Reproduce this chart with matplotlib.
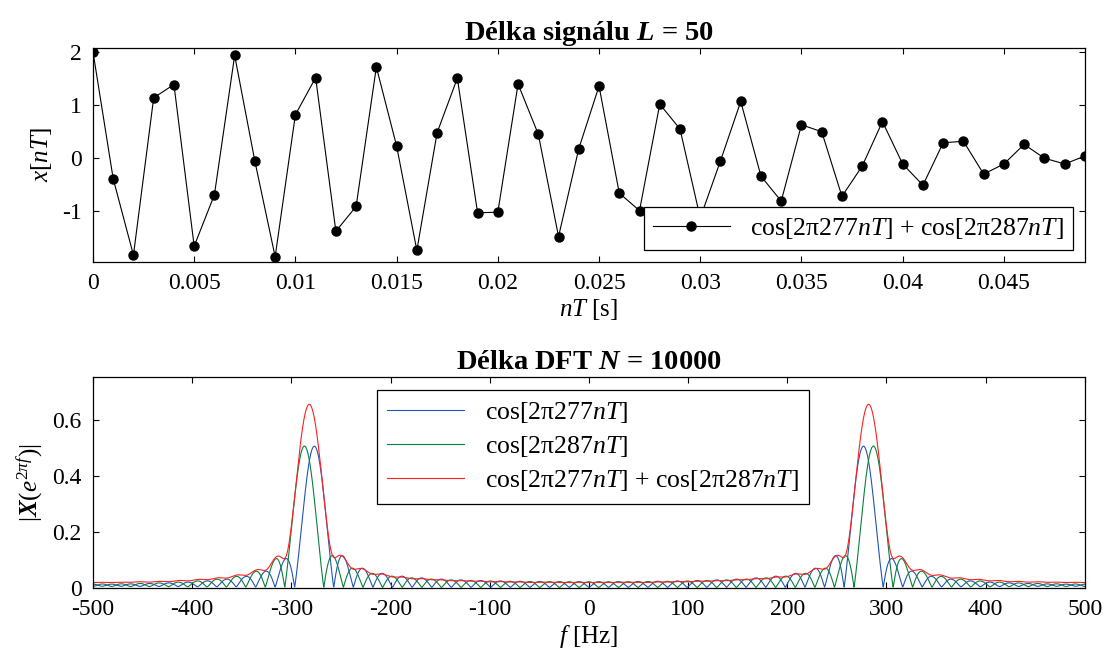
import numpy as np
import matplotlib
matplotlib.use('Agg')
import matplotlib.pyplot as plt

plt.rcParams['font.family'] = ['Liberation Serif', 'DejaVu Serif']
plt.rcParams['mathtext.fontset'] = 'custom'
plt.rcParams['mathtext.rm'] = 'Liberation Serif'
plt.rcParams['mathtext.it'] = 'Liberation Serif:italic'
plt.rcParams['mathtext.bf'] = 'Liberation Serif:bold'
plt.rcParams['mathtext.bfit'] = 'Liberation Serif:italic:bold'
plt.rcParams['axes.unicode_minus'] = False
plt.rcParams['font.size'] = 17

# signal parameters (from the titles / legend)
T = 0.001
L = 50
N = 10000
freqs = [277, 287]

# x[nT]
x_sum = [2.00, -0.40, -1.84, 1.13, 1.38, -1.67, -0.70, 1.93, -0.07, -1.87,
         0.81, 1.51, -1.39, -0.92, 1.71, 0.22, -1.75, 0.47, 1.50, -1.04,
         -1.03, 1.39, 0.44, -1.49, 0.17, 1.35, -0.67, -1.00, 1.01, 0.54,
         -1.14, -0.06, 1.06, -0.35, -0.82, 0.62, 0.49, -0.73, -0.16, 0.68,
         -0.12, -0.52, 0.28, 0.31, -0.31, -0.12, 0.25, -0.01, -0.12, 0.03]

top_xticks = [0, 0.005, 0.01, 0.015, 0.02, 0.025, 0.03, 0.035, 0.04, 0.045]
top_xlabels = ['0', '0.005', '0.01', '0.015', '0.02', '0.025', '0.03', '0.035', '0.04', '0.045']
top_yticks = [-1, 0, 1, 2]
bot_xticks = [-500, -400, -300, -200, -100, 0, 100, 200, 300, 400, 500]
bot_yticks = [0, 0.2, 0.4, 0.6]
bot_ylabels = ['0', '0.2', '0.4', '0.6']

lab_one = 'cos[2π277$nT$]'
lab_two = 'cos[2π287$nT$]'
lab_sum = 'cos[2π277$nT$] + cos[2π287$nT$]'

n = np.arange(L)
t = n * T
x1 = np.cos(2 * np.pi * freqs[0] * t)
x2 = np.cos(2 * np.pi * freqs[1] * t)
xs = np.array(x_sum)

def spectrum(x):
  return np.abs(np.fft.fftshift(np.fft.fft(x, N))) / L

f = (np.arange(N) - N / 2) / (N * T)

fig = plt.figure(figsize=(11.12, 6.59), dpi=100)
ax1 = fig.add_axes([0.0836, 0.6024, 0.892, 0.3248])
ax2 = fig.add_axes([0.0836, 0.1077, 0.892, 0.3203])

def style(ax):
  ax.tick_params(direction='in', top=True, right=True, length=4, width=0.8, pad=8)
  for s in ax.spines.values():
    s.set_linewidth(0.9)

# top: the signal
ax1.plot(t, xs, '-o', color='black', lw=0.8, markersize=6.5, label=lab_sum)
ax1.set_xlim(0, 0.049)
ax1.set_ylim(-1.97, 2.07)
ax1.set_xticks(top_xticks)
ax1.set_xticklabels(top_xlabels)
ax1.set_yticks(top_yticks)
ax1.set_xlabel('$nT$ [s]', labelpad=2, fontsize=18)
ax1.set_ylabel('$x[nT]$', labelpad=6, fontsize=18)
ax1.set_title(r'Délka signálu $\mathbfit{L}$ = 50', fontweight='bold', pad=6, fontsize=20.5)
style(ax1)
leg1 = ax1.legend(loc='lower right', bbox_to_anchor=(0.988, 0.056), borderaxespad=0,
                  fancybox=False, edgecolor='black', framealpha=1, handlelength=3.0,
                  borderpad=0.35, fontsize=18.5)
leg1.get_frame().set_linewidth(0.9)

# bottom: DFT magnitudes
ax2.plot(f, spectrum(x1), color='#2255bb', lw=0.8, label=lab_one)
ax2.plot(f, spectrum(x2), color='#0a8040', lw=0.8, label=lab_two)
ax2.plot(f, spectrum(xs), color='#ff2020', lw=0.8, label=lab_sum)
ax2.set_xlim(-500, 500)
ax2.set_ylim(0, 0.755)
ax2.set_xticks(bot_xticks)
ax2.set_yticks(bot_yticks)
ax2.set_yticklabels(bot_ylabels)
ax2.set_xlabel('$f$ [Hz]', labelpad=2, fontsize=18)
ax2.set_ylabel(r'$|\mathbfit{X}(e^{2\pi f})|$', labelpad=6, fontsize=18)
ax2.set_title(r'Délka DFT $\mathbfit{N}$ = 10000', fontweight='bold', pad=6, fontsize=20.5)
style(ax2)
leg2 = ax2.legend(loc='upper left', bbox_to_anchor=(0.286, 0.938), borderaxespad=0,
                  fancybox=False, edgecolor='black', framealpha=1, handlelength=3.0,
                  borderpad=0.4, labelspacing=0.35, fontsize=18.5)
leg2.get_frame().set_linewidth(0.9)

fig.savefig('out.png', dpi=100)
